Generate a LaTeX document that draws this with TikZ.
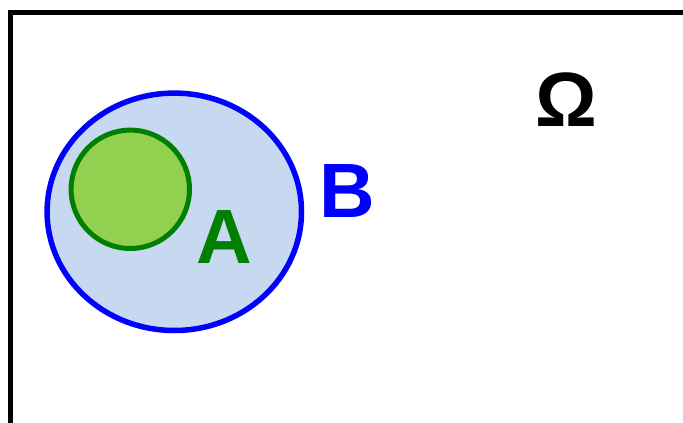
\documentclass[tikz,border=0pt]{standalone}
\usepackage{fontspec}
\setmainfont{Liberation Sans}
\definecolor{setB}{HTML}{0000FF}
\definecolor{setBfill}{HTML}{C6D9F0}
\definecolor{setA}{HTML}{008000}
\definecolor{setAfill}{HTML}{92D050}
\begin{document}
\begin{tikzpicture}[x=1pt,y=-1pt,
  lbl/.style={inner sep=0pt,font=\fontsize{77}{80}\selectfont\bfseries}]
\useasboundingbox (0,0) rectangle (683,423);
\clip (0,0) rectangle (683,423);
\draw[line width=5.5pt,black] (10.3,500) -- (10.3,12.3) -- (720,12.3);
\draw[line width=5.5pt,draw=setB,fill=setBfill] (174.3,211.8) ellipse [x radius=127.2,y radius=118.7];
\draw[line width=5pt,draw=setA,fill=setAfill] (130.3,189.3) circle [radius=59.2];
\node[lbl,text=setA] (A) at (224.7,237.5) {A};
\node[lbl,text=setB] (B) at (347.8,190.8) {B};
\node[lbl,text=black] (O) at (566.3,99.5) {Ω};
\end{tikzpicture}
\end{document}
